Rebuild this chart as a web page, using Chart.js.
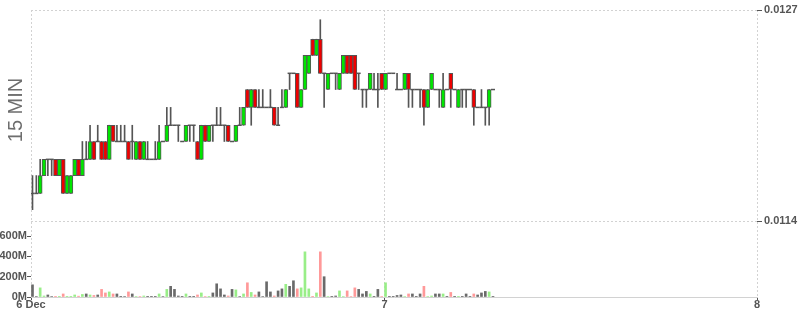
<!DOCTYPE html>
<html>
<head>
<meta charset="utf-8">
<script src="https://cdn.jsdelivr.net/npm/chart.js@4.4.1/dist/chart.umd.min.js"></script>
<style>
  html, body { margin: 0; padding: 0; background: #fff; }
  #wrap { width: 800px; height: 315px; }
</style>
</head>
<body>
<div id="wrap"><canvas id="myChart"></canvas></div>
<script>
// 15 min candles, 6 Dec onwards (candle index on the x axis)
const openPrices = [
  0.01157,0.01157,0.01157,0.01168,0.01178,0.01178,0.01178,0.01168,0.01178,0.01157,
  0.01157,0.01168,0.01178,0.01168,0.01178,0.01178,0.01189,0.01189,0.01189,0.01189,
  0.01178,0.01199,0.01189,0.01189,0.01189,0.01189,0.01189,0.01178,0.01189,0.01178,
  0.01178,0.01178,0.01178,0.01178,0.01189,0.01189,0.01199,0.01199,0.01199,0.01189,
  0.01189,0.01199,0.01199,0.01189,0.01178,0.01199,0.01189,0.01199,0.01199,0.01199,
  0.01199,0.01199,0.01189,0.01189,0.01199,0.01199,0.01221,0.0121,0.01221,0.0121,
  0.0121,0.0121,0.0121,0.0121,0.01199,0.0121,0.0121,0.01231,0.01231,0.01231,
  0.0121,0.01221,0.01231,0.01252,0.01242,0.01252,0.01231,0.01221,0.01231,0.01231,
  0.01221,0.01231,0.01242,0.01242,0.01242,0.01231,0.01221,0.01221,0.01221,0.01221,
  0.01221,0.01231,0.01221,0.01231,0.01231,0.01221,0.01221,0.01221,0.01231,0.01221,
  0.01221,0.01221,0.01221,0.0121,0.01221,0.01221,0.01221,0.0121,0.01221,0.01231,
  0.01221,0.0121,0.01221,0.01221,0.01221,0.01221,0.0121,0.0121,0.0121,0.0121,0.01221
];
const highPrices = [
  0.01168,0.01168,0.01178,0.01178,0.01178,0.01178,0.01178,0.01178,0.01178,0.01168,
  0.01168,0.01178,0.01178,0.01189,0.01189,0.01199,0.01189,0.01199,0.01189,0.01189,
  0.01199,0.01199,0.01199,0.01199,0.01199,0.01189,0.01199,0.01189,0.01189,0.01189,
  0.01189,0.01178,0.01189,0.01199,0.01189,0.0121,0.0121,0.01199,0.01199,0.01189,
  0.01199,0.01199,0.01199,0.01189,0.01199,0.01199,0.01199,0.01199,0.0121,0.0121,
  0.01199,0.01199,0.01189,0.01199,0.0121,0.0121,0.01221,0.01221,0.01221,0.01221,
  0.01221,0.0121,0.01221,0.0121,0.0121,0.01221,0.01221,0.01231,0.01231,0.01231,
  0.01221,0.01242,0.01242,0.01252,0.01252,0.01264,0.01231,0.01231,0.01231,0.01231,
  0.01231,0.01242,0.01242,0.01242,0.01242,0.01231,0.01221,0.01221,0.01231,0.01231,
  0.01231,0.01231,0.01231,0.01231,0.01231,0.01231,0.01221,0.01231,0.01231,0.01221,
  0.01221,0.01221,0.01221,0.01221,0.01231,0.01221,0.01221,0.01231,0.01221,0.01231,
  0.01221,0.01221,0.01221,0.01221,0.01221,0.01221,0.0121,0.01221,0.0121,0.01221,0.01221
];
const lowPrices = [
  0.01147,0.01157,0.01157,0.01168,0.01168,0.01168,0.01168,0.01168,0.01157,0.01157,
  0.01157,0.01168,0.01168,0.01168,0.01178,0.01178,0.01178,0.01189,0.01178,0.01178,
  0.01178,0.01189,0.01189,0.01189,0.01189,0.01178,0.01178,0.01178,0.01178,0.01178,
  0.01178,0.01178,0.01178,0.01178,0.01189,0.01189,0.01199,0.01199,0.01189,0.01189,
  0.01189,0.01189,0.01189,0.01178,0.01178,0.01189,0.01189,0.01189,0.01199,0.01199,
  0.01189,0.01189,0.01189,0.01189,0.01199,0.01199,0.0121,0.01199,0.0121,0.0121,
  0.0121,0.0121,0.0121,0.01199,0.01199,0.0121,0.0121,0.01221,0.01231,0.0121,
  0.0121,0.01221,0.01231,0.01242,0.01242,0.01231,0.0121,0.01221,0.01231,0.01221,
  0.01221,0.01231,0.01231,0.01231,0.01221,0.01221,0.0121,0.0121,0.01221,0.01221,
  0.0121,0.01221,0.01221,0.01231,0.01231,0.01221,0.01221,0.01221,0.0121,0.0121,
  0.01221,0.0121,0.01199,0.0121,0.01221,0.01221,0.0121,0.0121,0.01221,0.0121,
  0.01221,0.0121,0.0121,0.0121,0.01221,0.01199,0.0121,0.0121,0.01199,0.01199,0.01221
];
const closePrices = [
  0.01157,0.01157,0.01168,0.01178,0.01178,0.01178,0.01168,0.01178,0.01157,0.01168,
  0.01168,0.01178,0.01168,0.01178,0.01178,0.01189,0.01178,0.01189,0.01178,0.01178,
  0.01199,0.01189,0.01189,0.01189,0.01189,0.01178,0.01189,0.01189,0.01178,0.01189,
  0.01178,0.01178,0.01178,0.01189,0.01189,0.01199,0.01199,0.01199,0.01199,0.01189,
  0.01199,0.01199,0.01199,0.01178,0.01199,0.01189,0.01199,0.01199,0.01199,0.01199,
  0.01199,0.01189,0.01189,0.01199,0.01199,0.0121,0.0121,0.01221,0.0121,0.0121,
  0.0121,0.0121,0.0121,0.01199,0.01199,0.0121,0.01221,0.01231,0.01231,0.0121,
  0.01221,0.01242,0.01242,0.01242,0.01252,0.01231,0.01231,0.01231,0.01231,0.01231,
  0.01231,0.01242,0.01231,0.01231,0.01221,0.01231,0.01221,0.01221,0.01231,0.01221,
  0.01221,0.01221,0.01231,0.01231,0.01231,0.01221,0.01221,0.01231,0.01221,0.01221,
  0.01221,0.01221,0.0121,0.01221,0.01231,0.01221,0.01221,0.01221,0.01221,0.01221,
  0.01221,0.01221,0.01221,0.01221,0.01221,0.0121,0.0121,0.0121,0.0121,0.01221,0.01221
];
// volume in millions
const volumes = [
  120, 5, 90, 10, 20, 5, 3, 3, 30, 3,
  3, 20, 8, 25, 30, 20, 15, 20, 75, 40,
  50, 30, 30, 3, 5, 50, 30, 5, 5, 10,
  3, 2, 3, 30, 5, 75, 105, 75, 10, 3,
  30, 3, 3, 20, 40, 5, 3, 40, 130, 80,
  20, 10, 75, 70, 5, 30, 140, 45, 20, 50,
  5, 150, 50, 10, 60, 80, 125, 105, 160, 80,
  90, 445, 80, 3, 40, 445, 200, 5, 3, 10,
  60, 5, 60, 5, 90, 75, 30, 55, 30, 3,
  75, 5, 140, 3, 3, 15, 20, 5, 30, 30,
  3, 30, 105, 5, 10, 30, 30, 30, 3, 45,
  2, 2, 2, 30, 2, 30, 20, 40, 55, 50, 3
];

// day boundaries in candle units and their labels
const dayTicks = [-0.39, 91.73, 188.8];
const dayLabels = ['6 Dec', '7', '8'];
const priceTicks = [0.0114, 0.0127];
const volumeTicks = [0, 200, 400, 600];

const GRID = '#d2d2d2';
const AXIS = '#555';
const UP = '#00e600';
const DOWN = '#ee0000';

Chart.defaults.font.family = '"Liberation Sans", Arial, sans-serif';

const bodies = openPrices.map((o, i) => ({ x: i, y: o === closePrices[i] ? null : [o, closePrices[i]] }));
const dojis = openPrices.map((o, i) => ({ x: i, y: o === closePrices[i] ? o : null }));
const wicks = lowPrices.map((l, i) => ({ x: i, y: [l, highPrices[i]] }));
const vols = volumes.map((v, i) => ({ x: i, y: v * 1e6 }));

function dirColor(i, up, down, flat) {
  if (closePrices[i] > openPrices[i]) return up;
  if (closePrices[i] < openPrices[i]) return down;
  return flat;
}

const titlePlugin = {
  id: 'sideTitle',
  afterDraw(chart) {
    const ctx = chart.ctx;
    ctx.save();
    ctx.translate(16, 110);
    ctx.rotate(-Math.PI / 2);
    ctx.font = '20px "Liberation Sans", Arial, sans-serif';
    ctx.fillStyle = '#6e6e6e';
    ctx.textAlign = 'center';
    ctx.textBaseline = 'middle';
    ctx.fillText('15 MIN', 0, 0);
    ctx.restore();
  }
};

const tickFont = { size: 11, weight: 'bold', lineHeight: 1 };

new Chart(document.getElementById('myChart'), {
  type: 'bar',
  data: {
    datasets: [
      {
        label: 'body',
        data: bodies,
        yAxisID: 'y',
        grouped: false,
        barThickness: 4,
        borderWidth: 1,
        borderSkipped: false,
        borderColor: AXIS,
        backgroundColor: bodies.map((b, i) => dirColor(i, UP, DOWN, AXIS)),
        order: 0
      },
      {
        type: 'scatter',
        label: 'doji',
        data: dojis,
        yAxisID: 'y',
        pointStyle: 'line',
        pointRadius: 2,
        borderWidth: 1.5,
        borderColor: AXIS,
        order: 1
      },
      {
        label: 'wick',
        data: wicks,
        yAxisID: 'y',
        grouped: false,
        barThickness: 1,
        backgroundColor: AXIS,
        order: 2
      },
      {
        label: 'volume',
        data: vols,
        yAxisID: 'vol',
        grouped: false,
        barThickness: 2,
        backgroundColor: vols.map((v, i) => dirColor(i, '#99ee88', '#ff9999', '#6a6a6a')),
        order: 3
      }
    ]
  },
  options: {
    responsive: true,
    maintainAspectRatio: false,
    animation: false,
    layout: { padding: { top: 10, left: 0, right: 0, bottom: 0 } },
    plugins: { legend: { display: false }, tooltip: { enabled: false } },
    scales: {
      x: {
        type: 'linear',
        min: dayTicks[0],
        max: dayTicks[dayTicks.length - 1],
        offset: false,
        afterBuildTicks: s => { s.ticks = dayTicks.map(v => ({ value: v })); },
        afterFit: s => { s.height = 18; },
        grid: { offset: false, color: GRID, tickColor: AXIS, tickLength: 3 },
        border: { display: true, color: GRID, dash: [2, 2] },
        ticks: {
          autoSkip: false,
          maxRotation: 0,
          padding: -1,
          color: AXIS,
          font: tickFont,
          callback: (v, i) => dayLabels[i]
        }
      },
      y: {
        position: 'right',
        min: 0.010932,
        max: 0.0127,
        afterBuildTicks: s => { s.ticks = priceTicks.map(v => ({ value: v })); },
        afterFit: s => { s.width = 43; },
        grid: { color: GRID, tickColor: AXIS, tickLength: 5 },
        border: { display: false, dash: [2, 2] },
        ticks: {
          autoSkip: false,
          padding: 2,
          color: AXIS,
          font: tickFont,
          callback: v => v.toFixed(4)
        }
      },
      vol: {
        position: 'left',
        min: 0,
        max: 2828e6,
        afterBuildTicks: s => { s.ticks = volumeTicks.map(v => ({ value: v * 1e6 })); },
        afterFit: s => { s.width = 31; },
        grid: { drawOnChartArea: false, tickColor: AXIS, tickLength: 4 },
        border: { display: false },
        ticks: {
          autoSkip: false,
          padding: 0,
          color: AXIS,
          font: tickFont,
          callback: v => (v / 1e6) + 'M'
        }
      }
    }
  },
  plugins: [titlePlugin]
});
</script>
</body>
</html>
